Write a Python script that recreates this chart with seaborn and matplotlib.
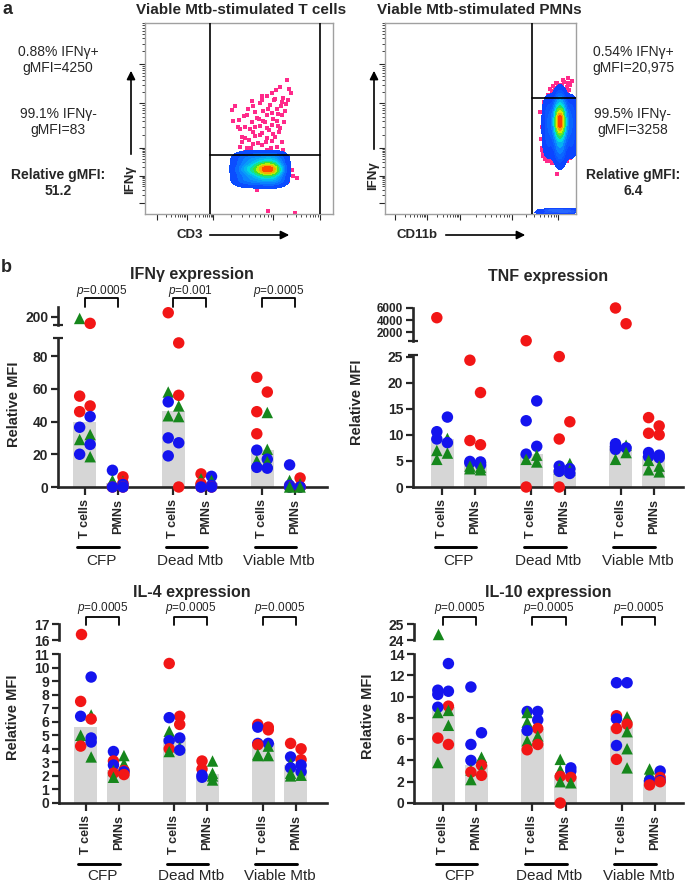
import numpy as np
import pandas as pd
import matplotlib
matplotlib.use("Agg")
import matplotlib.pyplot as plt
import seaborn as sns
from matplotlib import transforms
from matplotlib.lines import Line2D
from matplotlib.colors import LinearSegmentedColormap

# ---------------- panel b data (one list per bar: CFP T, CFP PMN, Dead T, Dead PMN, Viable T, Viable PMN)
GROUPS = ["CFP", "Dead Mtb", "Viable Mtb"]
CELLS = ["T cells", "PMNs"]

IFNG_RED = [[192, 55.5, 49.5, 46], [6.2, 0, 0, 2.5], [205, 88, 56, 0], [8, 0, 0, 2], [67, 58, 46, 32.5], [5.5, 0, 0, 0]]
IFNG_BLUE = [[43, 36.5, 26, 20], [10.2, 1.5, 0, 0], [52, 30, 27, 19], [6.5, 0, 0, 1], [22.5, 17, 12, 11.5], [13.5, 0, 0, 1]]
IFNG_GREEN = [[198, 32, 29, 18.5], [4, 3.5, 3, 2], [58, 49.5, 43.5, 43], [5, 4, 3, 2.5], [45.5, 23, 16, 15.5], [4, 2, 0, 0]]
IFNG_P = ["0.0005", "0.001", "0.0005"]

TNF_RED = [[4400], [24.3, 18.1, 8.9, 8.1], [600, 0], [25, 12.5, 9.2, 0], [6000, 3400], [13.3, 11.7, 10.3, 10.0]]
TNF_BLUE = [[13.4, 10.6, 9.2, 8.5], [4.9, 4.8, 4.6, 4.2], [16.5, 12.7, 7.8, 6.3], [4.0, 3.5, 3.0, 2.6], [8.3, 7.8, 7.5, 7.2], [6.6, 6.1, 5.8, 5.6]]
TNF_GREEN = [[9.3, 7.0, 6.5, 5.3], [4.0, 3.8, 3.5, 3.3], [6.1, 5.3, 4.8], [4.5, 3.5, 3.2], [8.0, 6.6, 5.3], [5.1, 4.0, 3.3, 2.9]]

IL4_RED = [[16.4, 7.5, 6.2, 4.2], [3.1, 2.4, 2.2, 2.1], [10.3, 6.4, 5.8, 4.0], [3.1, 2.5], [5.8, 5.6, 5.4, 4.3], [4.4, 4.0, 3.2]]
IL4_BLUE = [[9.3, 6.4, 4.8, 4.5], [3.8, 2.8, 2.3], [6.3, 4.8, 4.6, 3.9], [2.05, 1.9], [5.6, 4.4, 4.4], [3.4, 2.8, 2.6, 2.3]]
IL4_GREEN = [[6.5, 5.0, 4.6, 3.4], [3.5, 2.9, 2.4, 1.9], [5.3, 4.1, 3.8], [3.1, 2.2, 2.0, 1.7], [4.2, 3.6, 3.5, 3.5], [2.9, 2.2, 2.05, 2.0]]
IL4_P = ["0.0005", "0.0005", "0.0005"]

IL10_RED = [[9.1, 6.1, 5.5], [3.55, 2.9, 2.6], [7.0, 5.5, 5.0], [2.5, 2.4, 0], [8.2, 7.4, 7.0, 4.1], [2.4, 2.0, 1.7]]
IL10_BLUE = [[13.1, 10.6, 10.5, 10.2, 9.0], [10.9, 6.6, 5.5, 4.0], [8.6, 8.6, 7.8, 6.8], [3.3, 3.0], [11.3, 11.3, 7.9, 5.4], [3.0, 2.1, 2.1]]
IL10_GREEN = [[24.4, 8.7, 8.5, 7.3, 3.8], [4.3, 3.1, 3.0, 2.2], [8.5, 7.6, 6.3, 5.85], [4.1, 3.1, 2.0, 1.9], [8.1, 6.7, 5.1, 3.3], [3.2, 2.8, 2.2]]
IL10_P = ["0.0005", "0.0005", "0.0005"]

# ---------------- panel a data (arbitrary channel units)
TC_DOTS_X = [425, 393, 433, 365, 390, 415, 345, 270, 410, 375, 423, 330, 355, 395, 380, 305, 335, 365, 283, 320,
             355, 395, 265, 380, 345, 315, 285, 365, 405, 325, 385, 300, 345, 365, 290, 325, 380, 350, 305, 365,
             395, 335, 310, 375, 400, 425, 440, 445, 455, 430, 335, 370, 450, 285, 410, 325, 310, 355, 385, 335, 365,
             290, 300, 312, 320, 330, 338, 342, 350, 352, 360, 362, 368, 372, 378, 383, 386, 390, 398, 402, 408,
             412, 418, 420, 428, 300, 318, 340, 358, 392, 415, 278, 296, 308, 262, 437, 405, 382, 350, 330, 400]
TC_DOTS_Y = [463, 428, 433, 408, 398, 403, 383, 375, 388, 378, 381, 353, 358, 363, 348, 343, 333, 343, 325, 318,
             323, 323, 321, 308, 303, 293, 293, 298, 298, 283, 278, 263, 273, 263, 248, 243, 253, 238, 228, 223,
             233, 213, 208, 203, 213, 173, 153, 133, 123, 113, 83, 11, 3, 233, 343, 373, 198, 195, 198, 193, 191,
             268, 300, 255, 390, 300, 245, 330, 280, 410, 318, 250, 365, 290, 228, 330, 395, 268, 345, 283, 373,
             250, 320, 355, 395, 215, 230, 215, 210, 215, 220, 300, 340, 365, 360, 418, 440, 420, 395, 270, 305]
TC_BLOB_X = [285, 305, 325, 345, 360, 370, 382, 395, 290, 320, 350, 380, 400, 290, 320, 350, 380, 400]
TC_BLOB_Y = [155, 155, 155, 155, 155, 155, 155, 155, 119, 119, 119, 119, 119, 191, 191, 191, 191, 191]
TC_BLOB_W = [0.8, 1.2, 1.6, 2, 3, 5, 3, 1.2, 1.0, 1.2, 1.4, 1.4, 1.0, 1.0, 1.2, 1.4, 1.4, 1.0]
TC_VGATES = [195, 525]
TC_HGATE = 203

PMN_DOTS_X = [550, 537, 515, 505, 495, 525, 540, 515, 530, 507, 545, 555, 520, 475, 485, 480, 495, 525, 550, 515, 505, 470, 477, 465,
              500, 510, 520, 532, 545, 552, 540, 528, 518, 505, 560, 548, 535, 490, 512,
              475, 480, 490, 500, 510, 520, 530, 545, 555, 472, 468, 470]
PMN_DOTS_Y = [471, 458, 453, 443, 433, 438, 433, 428, 421, 418, 415, 448, 411, 208, 183, 198, 188, 188, 193, 138, 178, 223, 388, 353,
              425, 435, 445, 448, 440, 430, 420, 428, 415, 408, 462, 455, 465, 412, 452,
              200, 190, 185, 178, 175, 170, 180, 185, 195, 230, 260, 300]
PMN_BLOB_X = [525, 525, 525, 525, 525, 525, 525, 525, 525, 525, 490, 490, 490, 490, 560, 560, 560, 560]
PMN_BLOB_Y = [200, 230, 260, 290, 310, 320, 335, 355, 380, 400, 230, 280, 330, 375, 230, 280, 330, 375]
PMN_BLOB_W = [0.6, 0.9, 1.3, 2, 3, 5, 3, 1.5, 0.9, 0.5, 0.5, 0.7, 0.7, 0.5, 0.5, 0.7, 0.7, 0.5]
PMN_LOW_X = [485, 505, 525, 545, 560, 495, 535]
PMN_LOW_Y = [6, 14, 6, 14, 8, 12, 10]
PMN_VGATES = [440]
PMN_HGATE = 400

TC_STATS = ["0.88% IFNγ+\ngMFI=4250", "99.1% IFNγ-\ngMFI=83", "Relative gMFI:\n51.2"]
PMN_STATS = ["0.54% IFNγ+\ngMFI=20,975", "99.5% IFNγ-\ngMFI=3258", "Relative gMFI:\n6.4"]

# ---------------- style
W, H = 685, 884
POS = [0, 1, 2.7, 3.7, 5.4, 6.4]
COLORS = {"r": "#f21616", "b": "#1414ee", "g": "#16871c"}
MARKERS = {"r": "o", "b": "o", "g": "^"}
BAR = "#d6d6d6"

sns.set_style("ticks")
plt.rcParams["font.family"] = ["Liberation Sans", "DejaVu Sans"]
plt.rcParams["mathtext.fontset"] = "custom"
plt.rcParams["mathtext.it"] = "Liberation Sans:italic"
plt.rcParams["mathtext.rm"] = "Liberation Sans"

fig = plt.figure(figsize=(W / 100, H / 100), dpi=100)


def rect(x0, y0, x1, y1):
    return [x0 / W, 1 - y1 / H, (x1 - x0) / W, (y1 - y0) / H]


def ftext(x, y, s, **kw):
    kw.setdefault("ha", "center")
    kw.setdefault("va", "center")
    fig.text(x / W, 1 - y / H, s, **kw)


def tidy(red, blue, green):
    rows = []
    for i, (r, b, g) in enumerate(zip(red, blue, green)):
        pts = [(v, "r") for v in r] + [(v, "b") for v in b] + [(v, "g") for v in g]
        pts.sort(key=lambda t: -t[0])
        for k, (v, c) in enumerate(pts):
            off = -0.16 if k % 2 == 0 else 0.16
            rows.append({"pos": POS[i], "x": POS[i] + off, "value": v, "donor": c})
    return pd.DataFrame(rows)


def cytokine_panel(df, xs, main_y, top_y, xlim, main_lim, top_lim, main_ticks, top_ticks,
                   title, title_xy, ylab_xy, lines_y, pvals=None, p_y=None, top_size=10):
    ax = fig.add_axes(rect(xs[0], main_y[0], xs[1], main_y[1]))
    axt = fig.add_axes(rect(xs[0], top_y[0], xs[1], top_y[1]))
    for a in (ax, axt):
        a.set_facecolor("none")
    sns.barplot(data=df, x="pos", y="value", estimator="median", errorbar=None, native_scale=True,
                orient="x", width=0.7, color=BAR, saturation=1, edgecolor="none", ax=ax, zorder=1)
    lo = df[df.value <= main_lim[1]]
    hi = df[df.value > main_lim[1]]
    for a, d in ((ax, lo), (axt, hi)):
        if len(d):
            sns.scatterplot(data=d, x="x", y="value", hue="donor", style="donor", palette=COLORS,
                            markers=MARKERS, s=68, linewidth=0, legend=False, clip_on=False,
                            ax=a, zorder=3)
    for a, lim in ((ax, main_lim), (axt, top_lim)):
        a.set_xlim(*xlim)
        a.set_ylim(*lim)
        a.set_xlabel("")
        a.set_ylabel("")
        a.spines["top"].set_visible(False)
        a.spines["right"].set_visible(False)
        a.spines["left"].set_linewidth(1.9)
        a.spines["bottom"].set_linewidth(1.9)
        a.tick_params(axis="both", width=1.6, length=5, labelsize=10, pad=2)
        a.tick_params(axis="y", which="minor", direction="inout", length=7, width=1.6)
    axt.spines["bottom"].set_visible(False)
    axt.tick_params(axis="x", bottom=False, labelbottom=False)
    axt.tick_params(axis="y", labelsize=top_size)
    ax.set_yticks(main_ticks)
    axt.set_yticks(top_ticks)
    # caps marking the axis break
    ax.set_yticks([main_lim[1]], minor=True)
    axt.set_yticks([top_lim[0]], minor=True)
    for a in (ax, axt):
        for t in a.get_yticklabels():
            t.set_fontweight("bold")
    ax.set_xticks(POS)
    ax.set_xticklabels(CELLS * 3, rotation=90, fontweight="bold", fontsize=9)
    ax.tick_params(axis="x", length=6, pad=3)

    ftext(*title_xy, title, fontsize=11.5, fontweight="bold")
    ftext(*ylab_xy, "Relative MFI", fontsize=10.5, fontweight="bold", rotation=90)

    tr = transforms.blended_transform_factory(ax.transData, fig.transFigure)
    for g in range(3):
        t, p = POS[2 * g], POS[2 * g + 1]
        fig.add_artist(Line2D([t - 0.23, p + 0.03], [1 - lines_y[0] / H] * 2, color="black", lw=2.1, transform=tr))
        fig.text((t + p) / 2, 1 - lines_y[1] / H, GROUPS[g], transform=tr, ha="center", va="center", fontsize=11)
        if pvals:
            y_txt, y_top, y_bot = [1 - v / H for v in p_y]
            fig.add_artist(Line2D([t, t, p, p], [y_bot, y_top, y_top, y_bot], color="black", lw=1.3, transform=tr))
            fig.text((t + p) / 2, y_txt, r"$\it{p}$=" + pvals[g], transform=tr, ha="center", va="center", fontsize=8.5)
    return ax, axt


def log_minor(majors):
    out = []
    for lo, hi in zip(majors[:-1], majors[1:]):
        out += [lo + np.log10(k) * (hi - lo) for k in range(2, 10)]
    return out


JET = LinearSegmentedColormap.from_list("flow", ["#0b3cff", "#0a8cff", "#00e0e0", "#30e030", "#d8f000", "#ff9000", "#ff1000"])
BLUE = LinearSegmentedColormap.from_list("flowlow", ["#0b3cff", "#2a6cff"])


def flow_panel(box, xlim, xmajor, ymajor, dots, blob, vgates, hgate, low=None):
    ax = fig.add_axes(rect(*box))
    sns.scatterplot(x=dots[0], y=dots[1], color="#ff2a8a", marker="s", s=6, linewidth=0, ax=ax, zorder=2)
    sns.kdeplot(x=blob[0], y=blob[1], weights=blob[2], fill=True, cmap=JET, levels=12, thresh=0.03,
                bw_adjust=1.0, ax=ax, zorder=3)
    if low is not None:
        sns.kdeplot(x=low[0], y=low[1], fill=True, cmap=BLUE, levels=4, thresh=0.05, bw_adjust=1.0, ax=ax, zorder=3)
    ax.set_xlim(*xlim)
    ax.set_ylim(0, 575)
    for v in vgates:
        ax.axvline(v, color="black", lw=1.2, zorder=4)
    ax.plot([vgates[0], vgates[-1] if len(vgates) > 1 else xlim[1]], [hgate, hgate], color="black", lw=1.2, zorder=4)
    ax.set_xticks(xmajor)
    ax.set_yticks(ymajor)
    ax.set_xticks(log_minor(xmajor), minor=True)
    ax.set_yticks(log_minor(ymajor + [ymajor[-1] + 150]), minor=True)
    ax.set_xticklabels([])
    ax.set_yticklabels([])
    ax.set_xlabel("")
    ax.set_ylabel("")
    ax.tick_params(which="major", length=4, width=0.8, direction="out")
    ax.tick_params(which="minor", length=2, width=0.6, direction="out")
    for s in ax.spines.values():
        s.set_color("#a0a0a0")
        s.set_linewidth(1.0)
    return ax


def arrow(x0, y0, x1, y1):
    fig.add_artist(matplotlib.patches.FancyArrowPatch(
        (x0 / W, 1 - y0 / H), (x1 / W, 1 - y1 / H), transform=fig.transFigure,
        arrowstyle="-|>,head_length=5,head_width=2.5", color="black", lw=1.2))


# ---------------- panel a
flow_panel((145, 23, 333, 214), (0, 564), [35, 125, 205, 385, 525], [38, 133, 228, 383, 518],
           (TC_DOTS_X, TC_DOTS_Y), (TC_BLOB_X, TC_BLOB_Y, TC_BLOB_W), TC_VGATES, TC_HGATE)
flow_panel((385, 23, 576, 214), (0, 573), [30, 125, 225, 380, 520], [38, 133, 228, 383, 518],
           (PMN_DOTS_X, PMN_DOTS_Y), (PMN_BLOB_X, PMN_BLOB_Y, PMN_BLOB_W), PMN_VGATES, PMN_HGATE,
           low=(PMN_LOW_X, PMN_LOW_Y))

ftext(8, 9, "a", fontsize=13, fontweight="bold")
ftext(241, 10, "Viable Mtb-stimulated T cells", fontsize=11, fontweight="bold")
ftext(479, 10, "Viable Mtb-stimulated PMNs", fontsize=11, fontweight="bold")
for (y, s), bold in zip(zip([60, 122, 183], TC_STATS), [False, False, True]):
    ftext(58, y, s, fontsize=10, fontweight="bold" if bold else "normal", linespacing=1.15)
for (y, s), bold in zip(zip([60, 122, 183], PMN_STATS), [False, False, True]):
    ftext(633, y, s, fontsize=10, fontweight="bold" if bold else "normal", linespacing=1.15)
ftext(130, 180, "IFNγ", fontsize=9.5, fontweight="bold", rotation=90)
arrow(131, 157, 131, 68)
ftext(190, 235, "CD3", fontsize=9.5, fontweight="bold")
arrow(207, 235, 292, 235)
ftext(373, 176, "IFNγ", fontsize=9.5, fontweight="bold", rotation=90)
arrow(374, 152, 374, 68)
ftext(417, 235, "CD11b", fontsize=9.5, fontweight="bold")
arrow(443, 235, 528, 235)

# ---------------- panel b
ftext(6, 268, "b", fontsize=13, fontweight="bold")

cytokine_panel(tidy(IFNG_RED, IFNG_BLUE, IFNG_GREEN), (58, 327), (338, 487), (307, 325), (-0.82, 7.38),
               (0, 91), (190, 212), [0, 20, 40, 60, 80], [200], "IFNγ expression", (192, 275), (14, 404),
               (547, 561), IFNG_P, (291, 298, 307))
cytokine_panel(tidy(TNF_RED, TNF_BLUE, TNF_GREEN), (413, 683), (355, 487), (308, 341), (-0.88, 7.28),
               (0, 25.3), (556, 6000), [0, 5, 10, 15, 20, 25], [2000, 4000, 6000], "TNF expression",
               (548, 276), (357, 402), (547, 561), top_size=8.5)
cytokine_panel(tidy(IL4_RED, IL4_BLUE, IL4_GREEN), (59, 327), (654, 803), (624, 640), (-0.82, 7.35),
               (0, 11), (16, 17), list(range(0, 12)), [16, 17], "IL-4 expression", (192, 592), (13, 717),
               (864, 876), IL4_P, (608, 617, 625))
cytokine_panel(tidy(IL10_RED, IL10_BLUE, IL10_GREEN), (414, 683), (654, 803), (624, 640), (-0.88, 7.25),
               (0, 14), (24, 25), list(range(0, 15, 2)), [24, 25], "IL-10 expression", (548, 592), (368, 716),
               (864, 876), IL10_P, (608, 617, 625))

fig.savefig("out.png", dpi=100)
